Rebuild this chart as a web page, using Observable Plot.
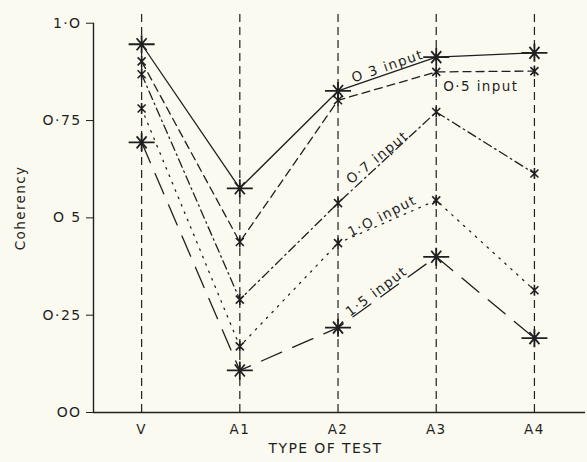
<!DOCTYPE html>
<html>
<head>
<meta charset="utf-8">
<script src="https://cdn.jsdelivr.net/npm/d3@7"></script>
<script src="https://cdn.jsdelivr.net/npm/@observablehq/plot@0.6"></script>
<style>
  html, body { margin: 0; padding: 0; background: #fafaf0; }
  #chart svg text { letter-spacing: 1.4px; }
  #chart svg text.wide { letter-spacing: 2.2px; }
</style>
</head>
<body>
<div id="chart"></div>
<script>
// Coherency for each type of test, one series per input level
const tests = ["V", "A1", "A2", "A3", "A4"];
const input03 = [0.946, 0.576, 0.826, 0.913, 0.924];
const input05 = [0.902, 0.438, 0.802, 0.875, 0.877];
const input07 = [0.869, 0.290, 0.538, 0.772, 0.614];
const input10 = [0.781, 0.170, 0.435, 0.545, 0.314];
const input15 = [0.694, 0.108, 0.218, 0.400, 0.191];
const seriesNames = ["O 3 input", "O·5 input", "O·7 input", "1·O input", "1·5 input"];
const yTicks = [0, 0.25, 0.5, 0.75, 1];
const yTickLabels = ["OO", "O·25", "O 5", "O·75", "1·O"];

const seriesValues = [input03, input05, input07, input10, input15];
const ink = "#1f1f1f";

// line style per series
const dashes = [null, "8,5", "9,4,1.5,4", "1.5,6.5", "22,12"];
// big asterisk-with-bar markers for the outer series, small crosses otherwise
const bigMarker = [true, false, false, false, true];

const bigStar = {
  draw(ctx, size) {
    const s = Math.sqrt(size / Math.PI) / 6;
    ctx.moveTo(-13 * s, 0); ctx.lineTo(13 * s, 0);
    ctx.moveTo(0, -9 * s); ctx.lineTo(0, 9 * s);
    ctx.moveTo(-5 * s, -6 * s); ctx.lineTo(5 * s, 6 * s);
    ctx.moveTo(5 * s, -6 * s); ctx.lineTo(-5 * s, 6 * s);
  }
};
const smallCross = {
  draw(ctx, size) {
    const s = Math.sqrt(size / Math.PI) / 6;
    ctx.moveTo(0, -5.5 * s); ctx.lineTo(0, 5.5 * s);
    ctx.moveTo(-4 * s, -4 * s); ctx.lineTo(4 * s, 4 * s);
    ctx.moveTo(4 * s, -4 * s); ctx.lineTo(-4 * s, 4 * s);
  }
};

const rows = seriesValues.flatMap((vals, k) =>
  vals.map((v, i) => ({series: k, test: i, value: v}))
);

// label placement along the A2 -> A3 segment of each series
const labelLayout = [
  {t: 0.52, rotate: -19},
  null,
  {t: 0.43, rotate: -39},
  {t: 0.47, rotate: -27},
  {t: 0.42, rotate: -37}
];
const slopedLabels = labelLayout.flatMap((l, k) => l ? [{
  text: seriesNames[k],
  test: 2 + l.t,
  value: seriesValues[k][2] + l.t * (seriesValues[k][3] - seriesValues[k][2]),
  rotate: l.rotate
}] : []);

const xDomain = [-0.49, 4.52];
const testIdx = tests.map((_, i) => i);

const marks = [
  // vertical dashed guides at each test
  Plot.ruleX(testIdx, {x: d => d, y1: 0, y2: 1.025, stroke: ink, strokeWidth: 1.2, strokeDasharray: "8,5"}),
  // axis lines
  Plot.ruleY([0], {stroke: ink, strokeWidth: 1.4}),
  Plot.ruleX([xDomain[0]], {y1: 0, y2: 1, stroke: ink, strokeWidth: 1.4}),
  Plot.axisY({
    ticks: yTicks,
    tickFormat: d => yTickLabels[yTicks.indexOf(d)],
    tickSize: 7, tickPadding: 5, label: null, stroke: ink, fill: ink, fontSize: 14
  }),
  Plot.axisX({
    ticks: testIdx,
    tickFormat: i => tests[i],
    tickSize: 0, tickPadding: 12, label: null, fill: ink, fontSize: 13.5
  }),
  Plot.text(["Coherency"], {x: xDomain[0], y: 0.5, dx: -73, dy: -10, rotate: -90, fill: ink, fontSize: 13.5}),
  Plot.text(["TYPE OF TEST"], {frameAnchor: "bottom", dx: -14, dy: 40, fill: ink, fontSize: 14, className: "wide"})
];

seriesValues.forEach((vals, k) => {
  const data = rows.filter(d => d.series === k);
  marks.push(Plot.line(data, {
    x: "test", y: "value", stroke: ink, strokeWidth: 1.3,
    strokeDasharray: dashes[k] ?? undefined
  }));
});
seriesValues.forEach((vals, k) => {
  const data = rows.filter(d => d.series === k);
  marks.push(Plot.dot(data, {
    x: "test", y: "value", r: 6,
    symbol: bigMarker[k] ? bigStar : smallCross,
    fill: "none", stroke: ink, strokeWidth: bigMarker[k] ? 1.8 : 1.6
  }));
});

// series labels
marks.push(Plot.text(slopedLabels, {
  x: "test", y: "value", text: "text", rotate: "rotate",
  lineAnchor: "bottom", dy: -3, fill: ink, fontSize: 13.5
}));
marks.push(Plot.text([{text: seriesNames[1], test: 3, value: input05[3]}], {
  x: "test", y: "value", text: "text", textAnchor: "start",
  dx: 7, dy: 15, fill: ink, fontSize: 13.5
}));

const chart = Plot.plot({
  width: 587,
  height: 462,
  marginLeft: 93,
  marginRight: 2,
  marginTop: 13,
  marginBottom: 50,
  x: {type: "linear", domain: xDomain},
  y: {domain: [0, 1.025]},
  style: {fontFamily: "'DejaVu Sans', sans-serif", fontSize: "13px", background: "#fafaf0", color: ink},
  marks
});
document.getElementById("chart").appendChild(chart);
</script>
</body>
</html>
